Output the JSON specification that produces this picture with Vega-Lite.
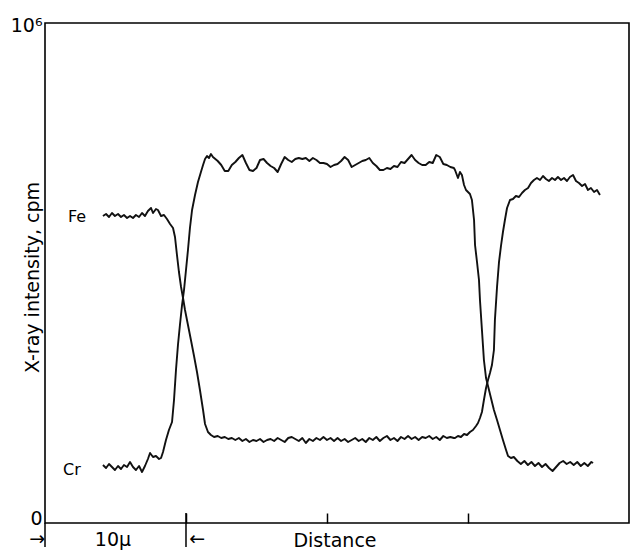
{
  "$schema": "https://vega.github.io/schema/vega-lite/v6.json",
  "width": 584,
  "height": 500,
  "autosize": "none",
  "padding": {"left": 45, "top": 23, "right": 2, "bottom": 31},
  "background": "white",
  "config": {
    "view": {"stroke": "black", "strokeWidth": 1.6},
    "axis": {"domain": false, "grid": false, "labelFont": "DejaVu Sans", "titleFont": "DejaVu Sans", "labelColor": "black", "titleColor": "black", "titleFontWeight": "normal"},
    "text": {"font": "DejaVu Sans", "color": "black"}
  },
  "datasets": {
    "Fe": [
      {"dist":4.11,"kcpm":614},{"dist":4.33,"kcpm":618},{"dist":4.54,"kcpm":612},{"dist":4.75,"kcpm":620},{"dist":4.96,"kcpm":614},{"dist":5.18,"kcpm":618},{"dist":5.39,"kcpm":612},{"dist":5.60,"kcpm":616},{"dist":5.82,"kcpm":610},{"dist":6.03,"kcpm":614},{"dist":6.24,"kcpm":610},{"dist":6.45,"kcpm":616},{"dist":6.67,"kcpm":612},{"dist":6.88,"kcpm":620},{"dist":7.09,"kcpm":614},{"dist":7.30,"kcpm":624},{"dist":7.52,"kcpm":630},{"dist":7.66,"kcpm":620},{"dist":7.87,"kcpm":628},{"dist":8.01,"kcpm":626},{"dist":8.23,"kcpm":614},{"dist":8.44,"kcpm":616},{"dist":8.65,"kcpm":608},{"dist":8.87,"kcpm":598},{"dist":9.08,"kcpm":590},{"dist":9.22,"kcpm":572},{"dist":9.36,"kcpm":536},{"dist":9.50,"kcpm":502},{"dist":9.65,"kcpm":472},{"dist":9.79,"kcpm":450},{"dist":9.93,"kcpm":426},{"dist":10.14,"kcpm":396},{"dist":10.35,"kcpm":366},{"dist":10.57,"kcpm":334},{"dist":10.78,"kcpm":302},{"dist":10.99,"kcpm":266},{"dist":11.21,"kcpm":226},{"dist":11.35,"kcpm":198},{"dist":11.56,"kcpm":182},{"dist":11.77,"kcpm":176},{"dist":11.99,"kcpm":172},
      {"dist":12.25,"kcpm":174},{"dist":12.5,"kcpm":170},{"dist":12.75,"kcpm":172},{"dist":13.0,"kcpm":168},{"dist":13.25,"kcpm":170},{"dist":13.5,"kcpm":166},{"dist":13.75,"kcpm":170},{"dist":14.0,"kcpm":164},{"dist":14.25,"kcpm":168},{"dist":14.5,"kcpm":162},{"dist":14.75,"kcpm":166},{"dist":15.0,"kcpm":164},{"dist":15.25,"kcpm":168},{"dist":15.5,"kcpm":162},{"dist":15.75,"kcpm":166},{"dist":16.0,"kcpm":168},{"dist":16.25,"kcpm":164},{"dist":16.5,"kcpm":170},{"dist":16.75,"kcpm":166},{"dist":17.0,"kcpm":162},{"dist":17.25,"kcpm":170},{"dist":17.5,"kcpm":172},{"dist":17.75,"kcpm":168},{"dist":18.0,"kcpm":164},{"dist":18.25,"kcpm":170},{"dist":18.5,"kcpm":160},{"dist":18.75,"kcpm":168},{"dist":19.0,"kcpm":164},{"dist":19.25,"kcpm":170},{"dist":19.5,"kcpm":166},{"dist":19.75,"kcpm":172},{"dist":20.0,"kcpm":166},{"dist":20.25,"kcpm":170},{"dist":20.5,"kcpm":164},{"dist":20.75,"kcpm":170},{"dist":21.0,"kcpm":164},{"dist":21.25,"kcpm":168},{"dist":21.5,"kcpm":162},{"dist":21.75,"kcpm":166},{"dist":22.0,"kcpm":170},{"dist":22.25,"kcpm":164},{"dist":22.5,"kcpm":168},{"dist":22.75,"kcpm":162},{"dist":23.0,"kcpm":170},{"dist":23.25,"kcpm":166},{"dist":23.5,"kcpm":172},{"dist":23.75,"kcpm":164},{"dist":24.0,"kcpm":170},{"dist":24.25,"kcpm":174},{"dist":24.5,"kcpm":166},{"dist":24.75,"kcpm":170},{"dist":25.0,"kcpm":164},{"dist":25.25,"kcpm":172},{"dist":25.5,"kcpm":168},{"dist":25.75,"kcpm":174},{"dist":26.0,"kcpm":168},{"dist":26.25,"kcpm":172},{"dist":26.5,"kcpm":166},{"dist":26.75,"kcpm":172},{"dist":27.0,"kcpm":170},{"dist":27.25,"kcpm":174},{"dist":27.5,"kcpm":168},{"dist":27.75,"kcpm":172},{"dist":28.0,"kcpm":166},{"dist":28.25,"kcpm":174},{"dist":28.5,"kcpm":170},{"dist":28.75,"kcpm":172},{"dist":29.0,"kcpm":170},
      {"dist":29.08,"kcpm":170},{"dist":29.29,"kcpm":174},{"dist":29.50,"kcpm":172},{"dist":29.72,"kcpm":178},{"dist":29.93,"kcpm":176},{"dist":30.14,"kcpm":182},{"dist":30.35,"kcpm":186},{"dist":30.57,"kcpm":194},{"dist":30.71,"kcpm":200},{"dist":30.85,"kcpm":210},{"dist":30.99,"kcpm":222},{"dist":31.13,"kcpm":246},{"dist":31.28,"kcpm":270},{"dist":31.42,"kcpm":286},{"dist":31.56,"kcpm":300},{"dist":31.70,"kcpm":316},{"dist":31.84,"kcpm":346},{"dist":31.91,"kcpm":406},{"dist":32.06,"kcpm":472},{"dist":32.20,"kcpm":522},{"dist":32.34,"kcpm":554},{"dist":32.48,"kcpm":582},{"dist":32.62,"kcpm":606},{"dist":32.77,"kcpm":630},{"dist":32.98,"kcpm":646},{"dist":33.19,"kcpm":648},{"dist":33.40,"kcpm":654},{"dist":33.62,"kcpm":652},{"dist":33.83,"kcpm":660},{"dist":34.04,"kcpm":666},{"dist":34.26,"kcpm":670},{"dist":34.47,"kcpm":680},{"dist":34.68,"kcpm":686},{"dist":34.89,"kcpm":690},{"dist":35.11,"kcpm":686},{"dist":35.32,"kcpm":694},{"dist":35.53,"kcpm":688},{"dist":35.74,"kcpm":684},{"dist":35.96,"kcpm":690},{"dist":36.17,"kcpm":686},{"dist":36.38,"kcpm":692},{"dist":36.60,"kcpm":686},{"dist":36.81,"kcpm":690},{"dist":37.02,"kcpm":684},{"dist":37.23,"kcpm":692},{"dist":37.45,"kcpm":696},{"dist":37.66,"kcpm":684},{"dist":37.87,"kcpm":680},{"dist":38.09,"kcpm":674},{"dist":38.30,"kcpm":678},{"dist":38.51,"kcpm":666},{"dist":38.72,"kcpm":670},{"dist":38.94,"kcpm":662},{"dist":39.15,"kcpm":666},{"dist":39.36,"kcpm":656}
    ],
    "Cr": [
      {"dist":4.11,"kcpm":116},{"dist":4.33,"kcpm":110},{"dist":4.54,"kcpm":118},{"dist":4.75,"kcpm":112},{"dist":4.96,"kcpm":106},{"dist":5.18,"kcpm":114},{"dist":5.39,"kcpm":108},{"dist":5.60,"kcpm":116},{"dist":5.82,"kcpm":112},{"dist":6.03,"kcpm":122},{"dist":6.24,"kcpm":112},{"dist":6.45,"kcpm":106},{"dist":6.67,"kcpm":114},{"dist":6.88,"kcpm":102},{"dist":7.09,"kcpm":114},{"dist":7.30,"kcpm":128},{"dist":7.45,"kcpm":140},{"dist":7.66,"kcpm":132},{"dist":7.87,"kcpm":134},{"dist":8.09,"kcpm":128},{"dist":8.23,"kcpm":130},{"dist":8.37,"kcpm":142},{"dist":8.58,"kcpm":166},{"dist":8.79,"kcpm":186},{"dist":9.01,"kcpm":202},{"dist":9.15,"kcpm":246},{"dist":9.29,"kcpm":306},{"dist":9.43,"kcpm":356},{"dist":9.57,"kcpm":396},{"dist":9.72,"kcpm":436},{"dist":9.86,"kcpm":466},{"dist":10.0,"kcpm":506},{"dist":10.14,"kcpm":546},{"dist":10.28,"kcpm":590},{"dist":10.43,"kcpm":626},{"dist":10.64,"kcpm":656},{"dist":10.85,"kcpm":682},{"dist":11.06,"kcpm":702},{"dist":11.21,"kcpm":716},{"dist":11.35,"kcpm":728},{"dist":11.49,"kcpm":734},{"dist":11.63,"kcpm":730},{"dist":11.77,"kcpm":738},{"dist":11.91,"kcpm":732},
      {"dist":12.25,"kcpm":724},{"dist":12.5,"kcpm":716},{"dist":12.75,"kcpm":704},{"dist":13.0,"kcpm":704},{"dist":13.25,"kcpm":716},{"dist":13.5,"kcpm":722},{"dist":13.75,"kcpm":730},{"dist":14.0,"kcpm":736},{"dist":14.25,"kcpm":720},{"dist":14.5,"kcpm":706},{"dist":14.75,"kcpm":704},{"dist":15.0,"kcpm":710},{"dist":15.25,"kcpm":726},{"dist":15.5,"kcpm":728},{"dist":15.75,"kcpm":720},{"dist":16.0,"kcpm":714},{"dist":16.25,"kcpm":710},{"dist":16.5,"kcpm":702},{"dist":16.75,"kcpm":718},{"dist":17.0,"kcpm":732},{"dist":17.25,"kcpm":726},{"dist":17.5,"kcpm":722},{"dist":17.75,"kcpm":728},{"dist":18.0,"kcpm":730},{"dist":18.25,"kcpm":728},{"dist":18.5,"kcpm":730},{"dist":18.75,"kcpm":724},{"dist":19.0,"kcpm":730},{"dist":19.25,"kcpm":726},{"dist":19.5,"kcpm":720},{"dist":19.75,"kcpm":720},{"dist":20.0,"kcpm":718},{"dist":20.25,"kcpm":712},{"dist":20.5,"kcpm":716},{"dist":20.75,"kcpm":718},{"dist":21.0,"kcpm":724},{"dist":21.25,"kcpm":732},{"dist":21.5,"kcpm":726},{"dist":21.75,"kcpm":712},{"dist":22.0,"kcpm":716},{"dist":22.25,"kcpm":720},{"dist":22.5,"kcpm":724},{"dist":22.75,"kcpm":726},{"dist":23.0,"kcpm":730},{"dist":23.25,"kcpm":720},{"dist":23.5,"kcpm":714},{"dist":23.75,"kcpm":706},{"dist":24.0,"kcpm":706},{"dist":24.25,"kcpm":710},{"dist":24.5,"kcpm":708},{"dist":24.75,"kcpm":714},{"dist":25.0,"kcpm":712},{"dist":25.25,"kcpm":722},{"dist":25.5,"kcpm":720},{"dist":25.75,"kcpm":728},{"dist":26.0,"kcpm":736},{"dist":26.25,"kcpm":726},{"dist":26.5,"kcpm":720},{"dist":26.75,"kcpm":716},{"dist":27.0,"kcpm":716},{"dist":27.25,"kcpm":722},{"dist":27.5,"kcpm":720},{"dist":27.75,"kcpm":736},{"dist":28.0,"kcpm":732},{"dist":28.25,"kcpm":718},{"dist":28.5,"kcpm":716},{"dist":28.75,"kcpm":712},{"dist":29.0,"kcpm":710},
      {"dist":29.08,"kcpm":706},{"dist":29.29,"kcpm":690},{"dist":29.43,"kcpm":702},{"dist":29.57,"kcpm":696},{"dist":29.72,"kcpm":676},{"dist":29.86,"kcpm":666},{"dist":30.0,"kcpm":662},{"dist":30.14,"kcpm":658},{"dist":30.28,"kcpm":646},{"dist":30.43,"kcpm":606},{"dist":30.50,"kcpm":556},{"dist":30.64,"kcpm":522},{"dist":30.78,"kcpm":486},{"dist":30.85,"kcpm":446},{"dist":30.99,"kcpm":386},{"dist":31.13,"kcpm":326},{"dist":31.28,"kcpm":290},{"dist":31.42,"kcpm":274},{"dist":31.63,"kcpm":250},{"dist":31.84,"kcpm":226},{"dist":32.06,"kcpm":206},{"dist":32.27,"kcpm":186},{"dist":32.48,"kcpm":166},{"dist":32.70,"kcpm":146},{"dist":32.84,"kcpm":134},{"dist":33.05,"kcpm":130},
      {"dist":33.25,"kcpm":132},{"dist":33.5,"kcpm":124},{"dist":33.75,"kcpm":118},{"dist":34.0,"kcpm":124},{"dist":34.25,"kcpm":116},{"dist":34.5,"kcpm":122},{"dist":34.75,"kcpm":114},{"dist":35.0,"kcpm":120},{"dist":35.25,"kcpm":112},{"dist":35.5,"kcpm":118},{"dist":35.75,"kcpm":110},{"dist":36.0,"kcpm":104},{"dist":36.25,"kcpm":112},{"dist":36.5,"kcpm":120},{"dist":36.75,"kcpm":124},{"dist":37.0,"kcpm":118},{"dist":37.25,"kcpm":122},{"dist":37.5,"kcpm":116},{"dist":37.75,"kcpm":122},{"dist":38.0,"kcpm":114},{"dist":38.25,"kcpm":120},{"dist":38.5,"kcpm":114},{"dist":38.75,"kcpm":122},{"dist":38.87,"kcpm":120}
    ],
    "labels": [
      {"t": "Fe", "dist": 2.27, "kcpm": 612},
      {"t": "Cr", "dist": 1.91, "kcpm": 106}
    ],
    "bottom": [
      {"t": "10µ", "dist": 4.82, "kcpm": -34},
      {"t": "→", "dist": -0.55, "kcpm": -32},
      {"t": "←", "dist": 10.8, "kcpm": -32}
    ],
    "ext": [
      {"dist": 0, "top": 0, "bot": -48},
      {"dist": 10, "top": 20, "bot": -48}
    ]
  },
  "layer": [
    {
      "data": {"name": "Fe"},
      "mark": {"type": "line", "color": "#111", "strokeWidth": 1.9, "strokeJoin": "round"},
      "encoding": {
        "x": {"field": "dist", "type": "quantitative", "scale": {"domain": [0, 41.42], "nice": false, "zero": false},
          "axis": {"values": [10, 20, 30], "labels": false, "tickSize": -10, "tickColor": "black", "tickWidth": 1.5, "title": "Distance", "titleFontSize": 19, "titleX": 289.5, "titleY": 17, "titleAlign": "center", "titleBaseline": "middle"}},
        "y": {"field": "kcpm", "type": "quantitative", "scale": {"domain": [0, 1000], "nice": false, "zero": false},
          "axis": {"values": [0, 1000], "ticks": false, "labelExpr": "datum.value == 0 ? '0' : '10⁶'", "labelFontSize": 19, "labelPadding": 3, "labelOffset": {"expr": "datum.value == 0 ? -5 : 2"}, "title": "X-ray intensity, cpm", "titleFontSize": 19, "titleX": -13, "titleY": 254, "titleAlign": "center", "titleBaseline": "middle", "titleAngle": -90}}
      }
    },
    {
      "data": {"name": "Cr"},
      "mark": {"type": "line", "color": "#111", "strokeWidth": 1.9, "strokeJoin": "round"},
      "encoding": {
        "x": {"field": "dist", "type": "quantitative"},
        "y": {"field": "kcpm", "type": "quantitative"}
      }
    },
    {
      "data": {"name": "labels"},
      "mark": {"type": "text", "fontSize": 16, "align": "center", "baseline": "middle"},
      "encoding": {
        "x": {"field": "dist", "type": "quantitative"},
        "y": {"field": "kcpm", "type": "quantitative"},
        "text": {"field": "t"}
      }
    },
    {
      "data": {"name": "bottom"},
      "mark": {"type": "text", "fontSize": 19, "align": "center", "baseline": "middle"},
      "encoding": {
        "x": {"field": "dist", "type": "quantitative"},
        "y": {"field": "kcpm", "type": "quantitative"},
        "text": {"field": "t"}
      }
    },
    {
      "data": {"name": "ext"},
      "mark": {"type": "rule", "color": "black", "strokeWidth": 1.5},
      "encoding": {
        "x": {"field": "dist", "type": "quantitative"},
        "y": {"field": "top", "type": "quantitative"},
        "y2": {"field": "bot"}
      }
    }
  ]
}
